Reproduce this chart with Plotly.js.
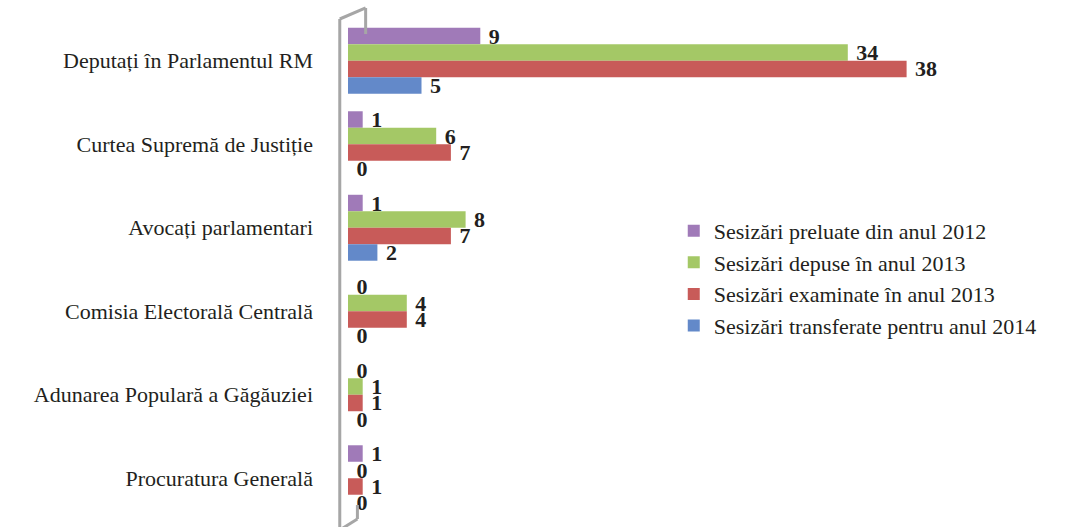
<!DOCTYPE html>
<html>
<head>
<meta charset="utf-8">
<script src="https://cdn.plot.ly/plotly-3.0.1.min.js"></script>
<style>
  html, body { margin: 0; padding: 0; background: #fff; }
  #chart { width: 1067px; height: 527px; }
</style>
</head>
<body>
<div id="chart"></div>
<script>
// categories, top to bottom
const categories = [
  "Deputați în Parlamentul RM",
  "Curtea Supremă de Justiție",
  "Avocați parlamentari",
  "Comisia Electorală Centrală",
  "Adunarea Populară a Găgăuziei",
  "Procuratura Generală",
];

const seriesNames = [
  "Sesizări preluate din anul 2012",
  "Sesizări depuse în anul 2013",
  "Sesizări examinate în anul 2013",
  "Sesizări transferate pentru anul 2014",
];

const preluate2012 = [9, 1, 1, 0, 0, 1];
const depuse2013 = [34, 6, 8, 4, 1, 0];
const examinate2013 = [38, 7, 7, 4, 1, 1];
const transferate2014 = [5, 0, 2, 0, 0, 0];

const COLORS = ["#a07ab8", "#a4c866", "#c85b59", "#6389c9"];
const SERIF = "Liberation Serif, Times New Roman, serif";

const values = [preluate2012, depuse2013, examinate2013, transferate2014];

const traces = values.map((v, i) => ({
  type: "bar",
  orientation: "h",
  name: seriesNames[i],
  y: categories,
  x: v,
  marker: { color: COLORS[i], line: { width: 0 } },
  // nbsp pushes the label past the (missing) 3D end cap
  text: v.map((n) => "\u00a0" + n),
  textposition: "outside",
  constraintext: "none",
  cliponaxis: false,
  textfont: { family: SERIF, size: 22, color: "#231f20", weight: "bold" },
  hoverinfo: "skip",
}));

// grey "back wall" frame of the 3D chart
const frame = { type: "line", xref: "paper", yref: "paper", line: { color: "#a6a6a6", width: 3 } };
const shapes = [
  { ...frame, x0: -0.014, x1: -0.014, y0: 1.0, y1: -0.02 },
  { ...frame, x0: -0.014, x1: 0.03, y0: 1.0, y1: 1.022 },
  { ...frame, x0: 0.03, x1: 0.03, y0: 1.022, y1: 0.97 },
  { ...frame, x0: -0.014, x1: 0.016, y0: -0.02, y1: 0.002 },
  { ...frame, x0: 0.016, x1: 0.016, y0: 0.002, y1: 0.03 },
];

const layout = {
  width: 1067,
  height: 527,
  paper_bgcolor: "#ffffff",
  plot_bgcolor: "#ffffff",
  font: { family: SERIF, color: "#231f20", size: 22 },
  margin: { l: 348, r: 131, t: 19, b: 7 },
  barmode: "group",
  bargap: 0.21,
  bargroupgap: 0,
  showlegend: true,
  legend: {
    x: 0.554,
    y: 0.619,
    xanchor: "left",
    yanchor: "top",
    bgcolor: "rgba(0,0,0,0)",
    font: { family: SERIF, size: 22, color: "#231f20" },
    tracegroupgap: 0,
    itemwidth: 30,
  },
  xaxis: {
    range: [0, 40],
    visible: false,
    fixedrange: true,
  },
  yaxis: {
    autorange: "reversed",
    showline: false,
    showgrid: false,
    zeroline: false,
    ticks: "",
    ticklabelstandoff: 34,
    tickfont: { family: SERIF, size: 22, color: "#231f20" },
    fixedrange: true,
  },
  shapes: shapes,
};

Plotly.newPlot("chart", traces, layout, { displayModeBar: false, staticPlot: true });
</script>
</body>
</html>
